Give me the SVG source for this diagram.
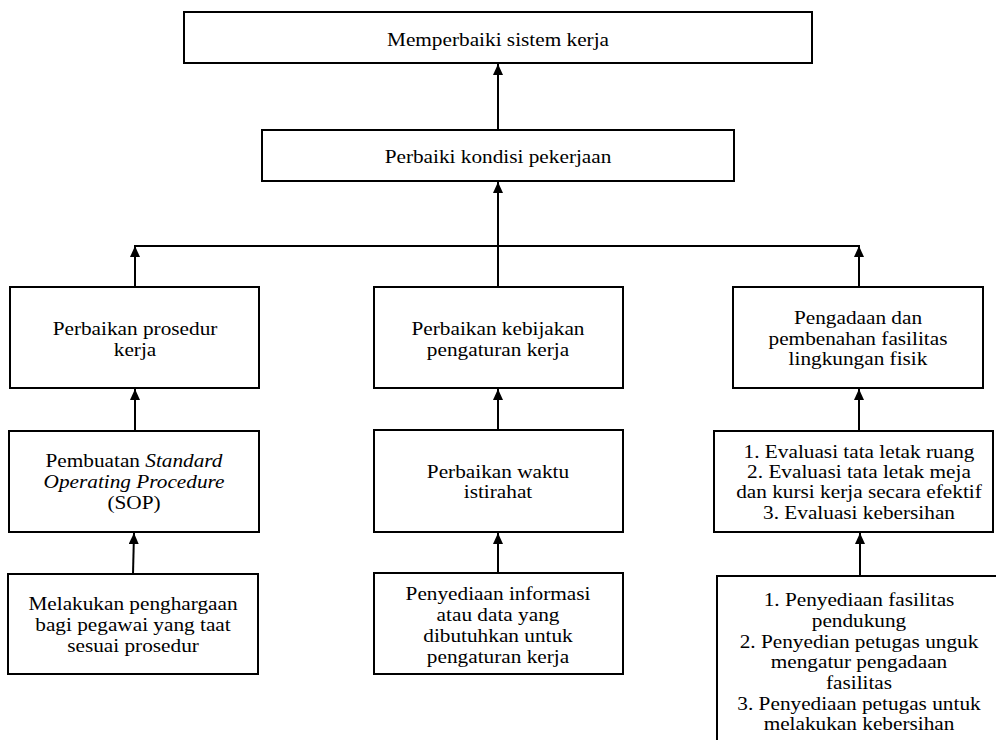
<svg xmlns="http://www.w3.org/2000/svg" width="996" height="740" viewBox="0 0 996 740">
<style>
.box{fill:#fff;stroke:#000;stroke-width:2}
text{font-family:'Liberation Serif','Times New Roman',Times,serif;font-size:19px;fill:#000;text-anchor:middle}
.c{fill:none;stroke:#000;stroke-width:2}
.i{font-style:italic}
</style>
<defs>
<marker id="ah" markerUnits="userSpaceOnUse" markerWidth="10" markerHeight="12" refX="11" refY="5" orient="auto">
<path d="M0,0 L11,5 L0,10 z" fill="#000"/>
</marker>
</defs>
<rect width="996" height="740" fill="#fff"/>
<g id="connectors">
<line class="c" x1="498" y1="130" x2="498" y2="64" marker-end="url(#ah)"/>
<line class="c" x1="498" y1="287" x2="498" y2="182" marker-end="url(#ah)"/>
<line class="c" x1="134" y1="246" x2="860" y2="246"/>
<line class="c" x1="135" y1="287" x2="135" y2="246" marker-end="url(#ah)"/>
<line class="c" x1="859" y1="287" x2="859" y2="246" marker-end="url(#ah)"/>
<line class="c" x1="135" y1="431" x2="135" y2="389" marker-end="url(#ah)"/>
<line class="c" x1="498" y1="430" x2="498" y2="389" marker-end="url(#ah)"/>
<line class="c" x1="859" y1="431" x2="859" y2="389" marker-end="url(#ah)"/>
<line class="c" x1="133" y1="574" x2="134" y2="533" marker-end="url(#ah)"/>
<line class="c" x1="498" y1="573" x2="498" y2="533" marker-end="url(#ah)"/>
<line class="c" x1="860" y1="576" x2="860" y2="533" marker-end="url(#ah)"/>
</g>
<g id="n1"><rect class="box" x="184" y="12" width="628" height="51"/><g transform="translate(498 0) scale(1.12 1)"><text x="0" y="46">Memperbaiki sistem kerja</text></g></g>
<g id="n2"><rect class="box" x="262" y="130" width="472" height="51"/><g transform="translate(498 0) scale(1.12 1)"><text x="0" y="163">Perbaiki kondisi pekerjaan</text></g></g>
<g id="n3"><rect class="box" x="10" y="287" width="249" height="101"/><g transform="translate(135 0) scale(1.12 1)"><text x="0" y="335">Perbaikan prosedur</text><text x="0" y="356">kerja</text></g></g>
<g id="n4"><rect class="box" x="374" y="287" width="249" height="101"/><g transform="translate(498 0) scale(1.12 1)"><text x="0" y="335">Perbaikan kebijakan</text><text x="0" y="356">pengaturan kerja</text></g></g>
<g id="n5"><rect class="box" x="733" y="287" width="250" height="101"/><g transform="translate(858 0) scale(1.12 1)"><text x="0" y="324">Pengadaan dan</text><text x="0" y="345">pembenahan fasilitas</text><text x="0" y="365">lingkungan fisik</text></g></g>
<g id="n6"><rect class="box" x="9" y="431" width="250" height="101"/><g transform="translate(134 0) scale(1.12 1)"><text x="0" y="467">Pembuatan <tspan class="i">Standard</tspan></text><text class="i" x="0" y="488">Operating Procedure</text><text x="0" y="509">(SOP)</text></g></g>
<g id="n7"><rect class="box" x="374" y="430" width="249" height="102"/><g transform="translate(498 0) scale(1.12 1)"><text x="0" y="478">Perbaikan waktu</text><text x="0" y="498">istirahat</text></g></g>
<g id="n8"><rect class="box" x="714" y="431" width="279" height="101"/><g transform="translate(859 0) scale(1.12 1)"><text x="0" y="458">1. Evaluasi tata letak ruang</text><text x="0" y="478">2. Evaluasi tata letak meja</text><text x="0" y="498">dan kursi kerja secara efektif</text><text x="0" y="519">3. Evaluasi kebersihan</text></g></g>
<g id="n9"><rect class="box" x="8" y="574" width="250" height="100"/><g transform="translate(133 0) scale(1.12 1)"><text x="0" y="610">Melakukan penghargaan</text><text x="0" y="631">bagi pegawai yang taat</text><text x="0" y="652">sesuai prosedur</text></g></g>
<g id="n10"><rect class="box" x="374" y="573" width="249" height="101"/><g transform="translate(498 0) scale(1.12 1)"><text x="0" y="600">Penyediaan informasi</text><text x="0" y="621">atau data yang</text><text x="0" y="642">dibutuhkan untuk</text><text x="0" y="663">pengaturan kerja</text></g></g>
<g id="n11"><rect class="box" x="717" y="576" width="284" height="190"/><g transform="translate(859 0) scale(1.12 1)"><text x="0" y="606">1. Penyediaan fasilitas</text><text x="0" y="627">pendukung</text><text x="0" y="648">2. Penyedian petugas unguk</text><text x="0" y="668">mengatur pengadaan</text><text x="0" y="689">fasilitas</text><text x="0" y="710">3. Penyediaan petugas untuk</text><text x="0" y="730">melakukan kebersihan</text></g></g>
</svg>
